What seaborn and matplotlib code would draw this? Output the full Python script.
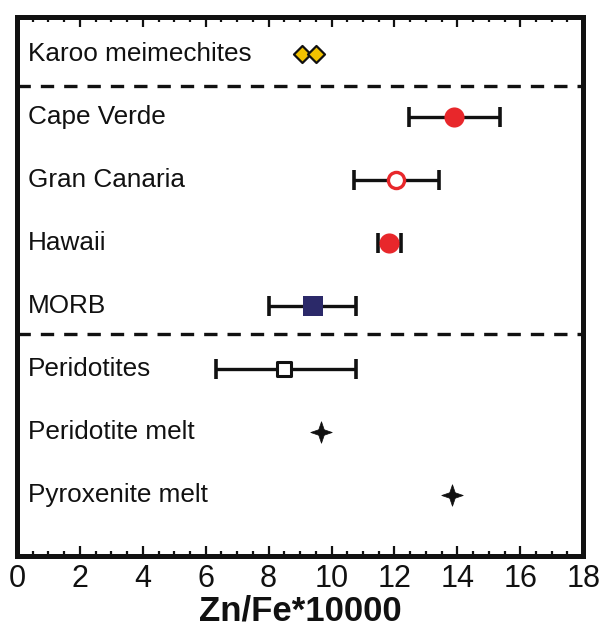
import numpy as np
import pandas as pd
import matplotlib
matplotlib.use("Agg")
import matplotlib.pyplot as plt
from matplotlib.path import Path
from matplotlib.ticker import MultipleLocator
import seaborn as sns

sns.set_style("white")
plt.rcParams["font.family"] = ["Liberation Sans", "DejaVu Sans"]

# Row labels, top to bottom
categories = ["Karoo meimechites", "Cape Verde", "Gran Canaria", "Hawaii", "MORB",
              "Peridotites", "Peridotite melt", "Pyroxenite melt"]

# Karoo meimechites: two individual samples
karoo_values = [9.05, 9.5]

# Mean Zn/Fe*10000 with the lower / upper ends of the range bars
group_names = ["Cape Verde", "Gran Canaria", "Hawaii", "MORB", "Peridotites"]
group_means = [13.9, 12.05, 11.82, 9.4, 8.5]
group_low = [12.45, 10.7, 11.48, 8.02, 6.32]
group_high = [15.35, 13.43, 12.2, 10.79, 10.79]

# Modelled melts
melt_names = ["Peridotite melt", "Pyroxenite melt"]
melt_values = [9.65, 13.84]

row = {c: i for i, c in enumerate(categories)}

fig = plt.figure(figsize=(6.05, 6.3), dpi=100)
ax = fig.add_axes([0.028, 0.1175, 0.936, 0.856])

# four-pointed concave star marker
t = np.linspace(0, 2 * np.pi, 9)[:-1]
r = np.where(np.arange(8) % 2 == 0, 1.0, 0.36)
ang = t + np.pi / 2
star = Path(np.column_stack([r * np.cos(ang), r * np.sin(ang)]).tolist() + [[0, 1]],
            [Path.MOVETO] + [Path.LINETO] * 7 + [Path.CLOSEPOLY])

# range bars
for name, m, lo, hi in zip(group_names, group_means, group_low, group_high):
    ax.errorbar(m, row[name], xerr=[[m - lo], [hi - m]], fmt="none",
                ecolor="#111111", elinewidth=2.4, capsize=7, capthick=2.6, zorder=2)

red = "#E8272B"
styles = {
    "Cape Verde": dict(marker="o", s=210, color=red, edgecolor=red, linewidth=0),
    "Gran Canaria": dict(marker="o", s=135, color="white", edgecolor=red, linewidth=2.4),
    "Hawaii": dict(marker="o", s=210, color=red, edgecolor=red, linewidth=0),
    "MORB": dict(marker="s", s=190, color="#2B2969", edgecolor="#2B2969", linewidth=0),
    "Peridotites": dict(marker="s", s=110, color="white", edgecolor="#111111", linewidth=2.2),
}
for name, m in zip(group_names, group_means):
    df = pd.DataFrame({"x": [m], "y": [row[name]]})
    sns.scatterplot(data=df, x="x", y="y", ax=ax, zorder=3, legend=False, **styles[name])

karoo_df = pd.DataFrame({"x": karoo_values, "y": [row["Karoo meimechites"]] * len(karoo_values)})
sns.scatterplot(data=karoo_df, x="x", y="y", ax=ax, marker="D", s=75,
                color="#F2C200", edgecolor="#111111", linewidth=1.6, zorder=3, legend=False)

melt_df = pd.DataFrame({"x": melt_values, "y": [row[n] for n in melt_names]})
sns.scatterplot(data=melt_df, x="x", y="y", ax=ax, marker=star, s=240,
                color="#111111", edgecolor="#111111", linewidth=0.5, zorder=3, legend=False)

# row labels written inside the frame
for name, i in row.items():
    ax.text(0.35, i, name, fontsize=18.8, va="center", ha="left", color="#111111")

# dashed separators
for yy in [0.5, 4.45]:
    ax.axhline(yy, color="#111111", linewidth=2.4, linestyle=(0, (4, 3)), zorder=1)

ax.set_xlim(0, 18)
ax.set_ylim(7.97, -0.6)
ax.set_yticks([])
ax.xaxis.set_major_locator(MultipleLocator(2))
ax.xaxis.set_minor_locator(MultipleLocator(0.5))
ax.tick_params(axis="x", which="both", direction="in", top=True, bottom=True,
               labelsize=22, pad=6, colors="#111111")
ax.tick_params(axis="x", which="major", length=7.5, width=1.6)
ax.tick_params(axis="x", which="minor", length=3.5, width=1.6)
for s in ax.spines.values():
    s.set_visible(True)
    s.set_linewidth(3.6)
    s.set_color("#111111")
ax.set_ylabel("")
ax.set_xlabel("Zn/Fe*10000", fontsize=25, fontweight="bold", labelpad=0, color="#111111")

fig.savefig("out.png", dpi=100, facecolor="white")
